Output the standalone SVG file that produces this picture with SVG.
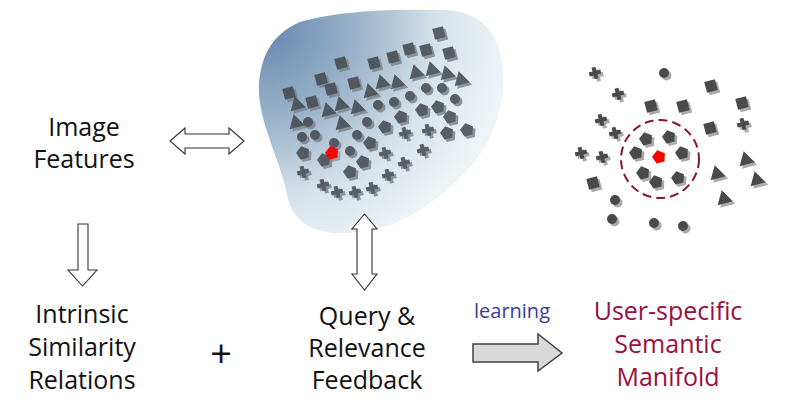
<svg xmlns="http://www.w3.org/2000/svg" xmlns:xlink="http://www.w3.org/1999/xlink" width="800" height="406" viewBox="0 0 800 406">
<style>
.t{font-family:"Open Sans","Noto Sans","Liberation Sans",sans-serif;font-size:25px;fill:#111;text-anchor:middle}
.red{fill:#9a0f3f}
.blue{fill:#3a3c9c;font-size:20px}
.s{fill:var(--sh)}
.f{fill:var(--fg)}
.warrow{fill:#fff;stroke:#333;stroke-width:1.1;stroke-linejoin:miter}
.garrow{fill:#d9d9d9;stroke:#404040;stroke-width:1.5}
</style>
<defs>
<radialGradient id="bg" gradientUnits="userSpaceOnUse" cx="268" cy="30" r="240">
<stop offset="0" stop-color="#6689b0"/>
<stop offset="0.4" stop-color="#9fb6cc"/>
<stop offset="0.7" stop-color="#d6e2ea"/>
<stop offset="1" stop-color="#eff5f7"/>
</radialGradient>
<g id="sq"><rect class="s" x="-5.5" y="-5.5" width="11" height="11" transform="translate(2.5,2.5) rotate(-15)"/><rect class="f" x="-5.5" y="-5.5" width="11" height="11" transform="rotate(-15)"/></g>
<g id="tri"><polygon class="s" points="-2.33,-8.69 8.69,2.33 -6.36,6.36" transform="translate(2.5,2.5)"/><polygon class="f" points="-2.33,-8.69 8.69,2.33 -6.36,6.36"/></g>
<g id="cir"><circle class="s" cx="2.5" cy="2.5" r="5"/><circle class="f" r="5"/></g>
<g id="pen"><polygon class="s" points="-1.81,-6.76 5.87,-3.81 5.44,4.41 -2.51,6.54 -6.99,-0.37" transform="translate(2.5,2.5)"/><polygon class="f" points="-1.81,-6.76 5.87,-3.81 5.44,4.41 -2.51,6.54 -6.99,-0.37"/></g>
<g id="crs"><path class="s" d="M-2,-6H2V-2H6V2H2V6H-2V2H-6V-2H-2Z" transform="translate(2.5,2.5) rotate(-15)"/><path class="f" d="M-2,-6H2V-2H6V2H2V6H-2V2H-6V-2H-2Z" transform="rotate(-15)"/></g>
</defs>

<g id="feature-space">
<path d="M259,95 C258,60 270,35 300,22 C340,10 400,9 445,10 C480,11 500,32 503,70 C506,110 490,150 460,178 C425,210 395,232 345,233 C310,234 292,220 287,195 C282,165 262,130 259,95 Z" fill="url(#bg)"/>
<g style="--fg:#42474c;--sh:#7d868e" opacity="0.85">
<use xlink:href="#sq" x="439" y="33"/><use xlink:href="#sq" x="449" y="53"/><use xlink:href="#sq" x="426" y="50"/><use xlink:href="#sq" x="409" y="49"/><use xlink:href="#sq" x="393" y="57"/><use xlink:href="#sq" x="374" y="63"/><use xlink:href="#sq" x="341" y="63"/><use xlink:href="#sq" x="321" y="79"/><use xlink:href="#sq" x="331" y="89"/><use xlink:href="#sq" x="354" y="83"/><use xlink:href="#sq" x="289" y="93"/><use xlink:href="#sq" x="312" y="102"/>
<use xlink:href="#tri" x="416" y="73"/><use xlink:href="#tri" x="432" y="70"/><use xlink:href="#tri" x="447" y="74"/><use xlink:href="#tri" x="461" y="80"/><use xlink:href="#tri" x="397" y="83"/><use xlink:href="#tri" x="382" y="83"/><use xlink:href="#tri" x="370" y="92"/><use xlink:href="#tri" x="357" y="108"/><use xlink:href="#tri" x="341" y="105"/><use xlink:href="#tri" x="328" y="111"/><use xlink:href="#tri" x="297" y="105"/><use xlink:href="#tri" x="296" y="123"/><use xlink:href="#tri" x="342" y="124"/>
<use xlink:href="#cir" x="426" y="88"/><use xlink:href="#cir" x="442" y="88"/><use xlink:href="#cir" x="410" y="96"/><use xlink:href="#cir" x="394" y="102"/><use xlink:href="#cir" x="378" y="105"/><use xlink:href="#cir" x="455" y="99"/><use xlink:href="#cir" x="367" y="122"/><use xlink:href="#cir" x="308" y="122"/><use xlink:href="#cir" x="302" y="137"/><use xlink:href="#cir" x="315" y="135"/><use xlink:href="#cir" x="357" y="135"/><use xlink:href="#cir" x="334" y="143"/><use xlink:href="#cir" x="350" y="151"/>
<use xlink:href="#pen" x="422" y="110"/><use xlink:href="#pen" x="438" y="107"/><use xlink:href="#pen" x="450" y="117"/><use xlink:href="#pen" x="401" y="117"/><use xlink:href="#pen" x="385" y="127"/><use xlink:href="#pen" x="447" y="133"/><use xlink:href="#pen" x="467" y="130"/><use xlink:href="#pen" x="370" y="143"/><use xlink:href="#pen" x="303" y="153"/><use xlink:href="#pen" x="324" y="160"/><use xlink:href="#pen" x="363" y="162"/><use xlink:href="#pen" x="350" y="172"/>
<use xlink:href="#crs" x="405" y="133"/><use xlink:href="#crs" x="428" y="130"/><use xlink:href="#crs" x="423" y="150"/><use xlink:href="#crs" x="385" y="153"/><use xlink:href="#crs" x="404" y="163"/><use xlink:href="#crs" x="388" y="175"/><use xlink:href="#crs" x="303" y="172"/><use xlink:href="#crs" x="323" y="185"/><use xlink:href="#crs" x="337" y="192"/><use xlink:href="#crs" x="355" y="192"/><use xlink:href="#crs" x="372" y="188"/>
</g>
<use xlink:href="#pen" x="332" y="153" style="--fg:#ff0000;--sh:rgba(120,128,136,0.6)"/>
</g>

<g id="semantic-manifold" style="--fg:#4a4a4a;--sh:#ababab">
<use xlink:href="#crs" x="595" y="73"/><use xlink:href="#crs" x="618" y="94"/><use xlink:href="#crs" x="601" y="120"/><use xlink:href="#crs" x="615" y="133"/><use xlink:href="#crs" x="581" y="153"/><use xlink:href="#crs" x="602" y="157"/><use xlink:href="#crs" x="743" y="124"/>
<use xlink:href="#cir" x="664" y="73"/><use xlink:href="#cir" x="615" y="200"/><use xlink:href="#cir" x="612" y="219"/><use xlink:href="#cir" x="654" y="223"/><use xlink:href="#cir" x="683" y="226"/>
<use xlink:href="#sq" x="711" y="86"/><use xlink:href="#sq" x="742" y="103"/><use xlink:href="#sq" x="651" y="106"/><use xlink:href="#sq" x="683" y="106"/><use xlink:href="#sq" x="710" y="128"/><use xlink:href="#sq" x="593" y="183"/>
<use xlink:href="#tri" x="717" y="174"/><use xlink:href="#tri" x="746" y="160"/><use xlink:href="#tri" x="757" y="180"/><use xlink:href="#tri" x="724" y="199"/>
<use xlink:href="#pen" x="646" y="139"/><use xlink:href="#pen" x="669" y="137"/><use xlink:href="#pen" x="636" y="153"/><use xlink:href="#pen" x="682" y="153"/><use xlink:href="#pen" x="643" y="173"/><use xlink:href="#pen" x="656" y="182"/><use xlink:href="#pen" x="678" y="178"/>
<use xlink:href="#pen" x="659" y="157" style="--fg:#ff0000;--sh:#ffffff"/>
<circle cx="660" cy="159" r="39" fill="none" stroke="#8b1538" stroke-width="2" stroke-dasharray="9 5"/>
</g>

<g id="connectors">
<path class="warrow" d="M170,141 L185,128 L185,134 L229,134 L229,128 L244,141 L229,154 L229,148 L185,148 L185,154 Z"/>
<path class="warrow" d="M78,224 H88 V270 H97 L82.5,286 L68,270 H78 Z"/>
<path class="warrow" d="M364.5,214 L377,229 H372 V274 H377 L364.5,290 L352,274 H357 V229 H352 Z"/>
<path class="garrow" d="M473,344 H538 V334 L562,353 L538,371 V362 H473 Z"/>
</g>

<g id="image-features"><text class="t" x="84" y="136">Image</text><text class="t" x="84" y="168">Features</text></g>
<g id="intrinsic"><text class="t" x="82" y="323">Intrinsic</text><text class="t" x="82" y="356">Similarity</text><text class="t" x="82" y="389">Relations</text></g>
<g id="plus"><text class="t" x="221" y="367" style="font-size:38px">+</text></g>
<g id="query"><text class="t" x="367" y="325">Query &amp;</text><text class="t" x="367" y="357">Relevance</text><text class="t" x="367" y="389">Feedback</text></g>
<g id="learning"><text class="t blue" x="512" y="318">learning</text></g>
<g id="manifold"><text class="t red" x="668" y="320">User-specific</text><text class="t red" x="668" y="353">Semantic</text><text class="t red" x="668" y="386">Manifold</text></g>
</svg>
